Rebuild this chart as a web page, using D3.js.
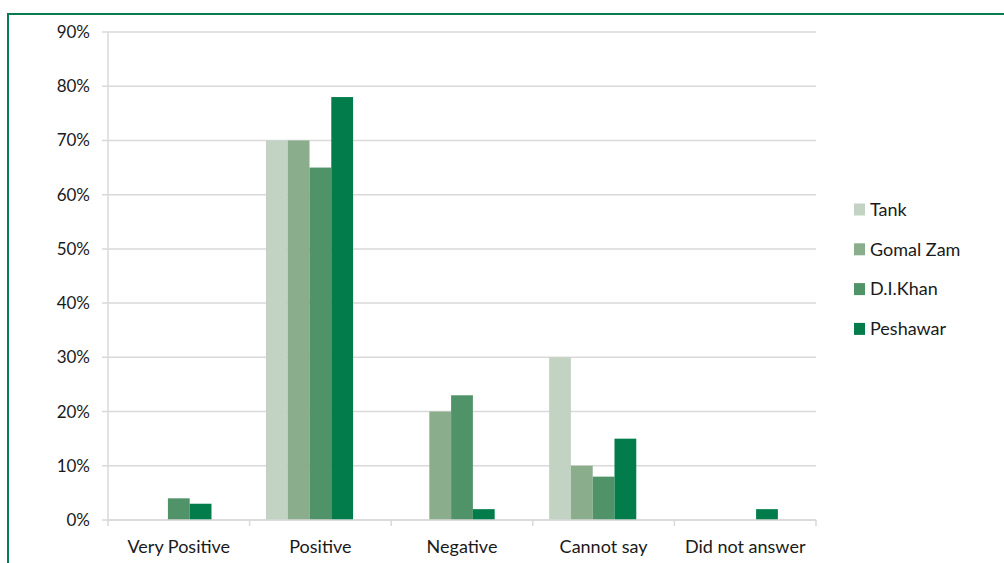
<!DOCTYPE html>
<html>
<head>
<meta charset="utf-8">
<script src="https://cdn.jsdelivr.net/npm/d3@7"></script>
<style>
  html, body { margin: 0; padding: 0; background: #fff; }
  svg { display: block; font-family: Lato, "Open Sans", sans-serif; }
</style>
</head>
<body>
<svg id="chart" width="1004" height="563"></svg>
<script>
// Survey responses by district (share of respondents)
const categories = ["Very Positive", "Positive", "Negative", "Cannot say", "Did not answer"];
const seriesNames = ["Tank", "Gomal Zam", "D.I.Khan", "Peshawar"];
const tank      = [0, 0.70, 0, 0.30, 0];
const gomalZam  = [0, 0.70, 0.20, 0.10, 0];
const diKhan    = [0.04, 0.65, 0.23, 0.08, 0];
const peshawar  = [0.03, 0.78, 0.02, 0.15, 0.02];
const yTicks = [0, 0.1, 0.2, 0.3, 0.4, 0.5, 0.6, 0.7, 0.8, 0.9];
const colors = ["#c2d3c4", "#8aae8c", "#519369", "#027c4a"];

const seriesValues = [tank, gomalZam, diKhan, peshawar];
// five slots per group; the fifth stays empty, which shifts each group left
const slotCount = 5;

const svg = d3.select("#chart");

// outer frame
svg.append("rect")
  .attr("x", 8).attr("y", 14)
  .attr("width", 1100).attr("height", 700)
  .attr("fill", "none")
  .attr("stroke", "#0a7b4f")
  .attr("stroke-width", 2);

const plot = { left: 108, right: 816, top: 32, bottom: 520 };

const x = d3.scaleBand()
  .domain(categories)
  .range([plot.left, plot.right])
  .paddingInner(0).paddingOuter(0);

const y = d3.scaleLinear()
  .domain([0, 0.9])
  .range([plot.bottom, plot.top]);

// gap of 150% of a bar width, split on both sides of each group
const barW = x.bandwidth() / (slotCount + 1.5);
const groupPad = barW * 0.75;

const grid = svg.append("g");
grid.selectAll("line")
  .data(yTicks)
  .join("line")
  .attr("x1", plot.left - 6)
  .attr("x2", plot.right)
  .attr("y1", d => y(d))
  .attr("y2", d => y(d))
  .attr("stroke", "#d9d9d9")
  .attr("stroke-width", 1.5);

// y-axis line
svg.append("line")
  .attr("x1", plot.left).attr("x2", plot.left)
  .attr("y1", plot.top).attr("y2", plot.bottom)
  .attr("stroke", "#d9d9d9").attr("stroke-width", 1.5);

// y tick labels
svg.append("g").selectAll("text")
  .data(yTicks)
  .join("text")
  .attr("x", 90)
  .attr("y", d => y(d))
  .attr("dy", "0.35em")
  .attr("text-anchor", "end")
  .attr("font-size", 17)
  .attr("fill", "#1a1a1a")
  .text(d => d3.format(".0%")(d));

// x tick marks at category boundaries
const boundaries = categories.map(c => x(c)).concat([plot.right]);
svg.append("g").selectAll("line")
  .data(boundaries)
  .join("line")
  .attr("x1", d => d).attr("x2", d => d)
  .attr("y1", plot.bottom).attr("y2", plot.bottom + 6)
  .attr("stroke", "#d9d9d9").attr("stroke-width", 1.5);

// bars
seriesValues.forEach((vals, si) => {
  svg.append("g")
    .selectAll("rect")
    .data(vals.map((v, i) => ({ cat: categories[i], v })))
    .join("rect")
    .attr("x", d => x(d.cat) + groupPad + si * barW)
    .attr("y", d => y(d.v))
    .attr("width", barW)
    .attr("height", d => y(0) - y(d.v))
    .attr("fill", colors[si]);
});

// x-axis baseline drawn over bar bottoms
svg.append("line")
  .attr("x1", plot.left).attr("x2", plot.right)
  .attr("y1", plot.bottom).attr("y2", plot.bottom)
  .attr("stroke", "#d9d9d9").attr("stroke-width", 1.5);

// category labels
svg.append("g").selectAll("text")
  .data(categories)
  .join("text")
  .attr("x", d => x(d) + x.bandwidth() / 2)
  .attr("y", 553)
  .attr("text-anchor", "middle")
  .attr("font-size", 18)
  .attr("fill", "#1a1a1a")
  .text(d => d);

// legend
const legend = svg.append("g");
seriesNames.forEach((name, i) => {
  const cy = 209.5 + i * 39.8;
  legend.append("rect")
    .attr("x", 854).attr("y", cy - 6)
    .attr("width", 11).attr("height", 12)
    .attr("fill", colors[i]);
  legend.append("text")
    .attr("x", 870).attr("y", cy)
    .attr("dy", "0.35em")
    .attr("font-size", 18)
    .attr("fill", "#1a1a1a")
    .text(name);
});
</script>
</body>
</html>
